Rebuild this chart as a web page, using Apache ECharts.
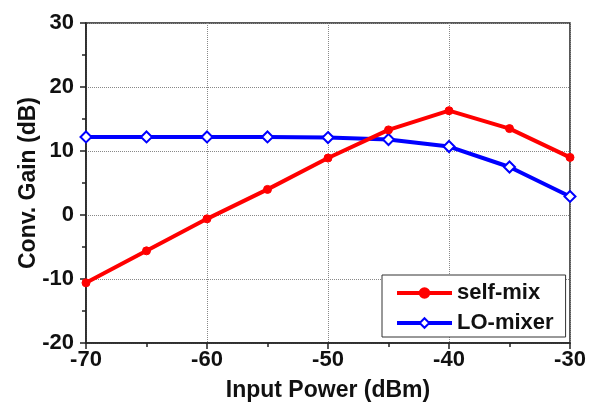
<!DOCTYPE html>
<html>
<head>
<meta charset="utf-8">
<script src="https://cdn.jsdelivr.net/npm/echarts@6/dist/echarts.min.js"></script>
<style>
  html, body { margin: 0; padding: 0; background: #fff; }
  #chart { width: 600px; height: 410px; }
</style>
</head>
<body>
<div id="chart"></div>
<script>
// input power (dBm)
const inputPower = [-70, -65, -60, -55, -50, -45, -40, -35, -30];
// conversion gain (dB)
const selfMix = [-10.6, -5.6, -0.6, 4.0, 8.9, 13.3, 16.3, 13.5, 9.0];
const loMixer = [12.2, 12.2, 12.2, 12.2, 12.1, 11.8, 10.7, 7.5, 2.9];

const FONT = '"Liberation Sans", Arial, sans-serif';

function pairs(xs, ys) {
    return xs.map((x, i) => [x, ys[i]]);
}

let myChart = echarts.init(document.getElementById('chart'), null, { renderer: 'canvas' });

let option = {
    backgroundColor: '#fff',
    animation: false,
    textStyle: { fontFamily: FONT },
    grid: {
        left: 86, right: 30, top: 23, bottom: 67,
        show: true, borderColor: '#222', borderWidth: 1.5
    },
    legend: {
        left: 382, top: 275,
        orient: 'vertical',
        backgroundColor: '#fff',
        borderColor: '#333', borderWidth: 1,
        padding: [6, 12, 2, 13],
        itemWidth: 55, itemHeight: 12, itemGap: 6,
        lineStyle: { width: 4 },
        textStyle: { fontSize: 22, fontWeight: 'bold', color: '#111', lineHeight: 24, fontFamily: FONT },
        data: ['self-mix', 'LO-mixer']
    },
    xAxis: {
        type: 'value',
        min: -70, max: -30, interval: 10,
        name: 'Input Power (dBm)',
        nameLocation: 'middle', nameGap: 36,
        nameMoveOverlap: false,
        nameTextStyle: { fontSize: 23, fontWeight: 'bold', color: '#111', fontFamily: FONT },
        axisLine: { onZero: false, lineStyle: { color: '#222', width: 1.5 } },
        axisTick: { show: true, length: 6, lineStyle: { color: '#222', width: 1.5 } },
        minorTick: { show: true, splitNumber: 2, length: 4, lineStyle: { color: '#222', width: 1.5 } },
        axisLabel: { fontSize: 22, fontWeight: 'bold', color: '#111', margin: 6, fontFamily: FONT },
        splitLine: { show: true, lineStyle: { color: '#888', type: 'dotted', width: 1 } }
    },
    yAxis: {
        type: 'value',
        min: -20, max: 30, interval: 10,
        name: 'Conv. Gain (dB)',
        nameLocation: 'middle', nameGap: 46,
        nameMoveOverlap: false,
        nameTextStyle: { fontSize: 23, fontWeight: 'bold', color: '#111', fontFamily: FONT },
        axisLine: { onZero: false, lineStyle: { color: '#222', width: 1.5 } },
        axisTick: { show: true, length: 6, lineStyle: { color: '#222', width: 1.5 } },
        minorTick: { show: true, splitNumber: 2, length: 4, lineStyle: { color: '#222', width: 1.5 } },
        axisLabel: { fontSize: 22, fontWeight: 'bold', color: '#111', margin: 12, fontFamily: FONT },
        splitLine: { show: true, lineStyle: { color: '#888', type: 'dotted', width: 1 } }
    },
    series: [
        {
            name: 'LO-mixer',
            type: 'line',
            data: pairs(inputPower, loMixer),
            symbol: 'diamond',
            symbolSize: 11,
            lineStyle: { color: '#0000ff', width: 4 },
            itemStyle: { color: '#fff', borderColor: '#0000ff', borderWidth: 2 }
        },
        {
            name: 'self-mix',
            type: 'line',
            data: pairs(inputPower, selfMix),
            symbol: 'circle',
            symbolSize: 8,
            lineStyle: { color: '#ff0000', width: 4 },
            itemStyle: { color: '#ff0000', borderColor: '#ff0000', borderWidth: 1 }
        }
    ]
};

myChart.setOption(option);
</script>
</body>
</html>
